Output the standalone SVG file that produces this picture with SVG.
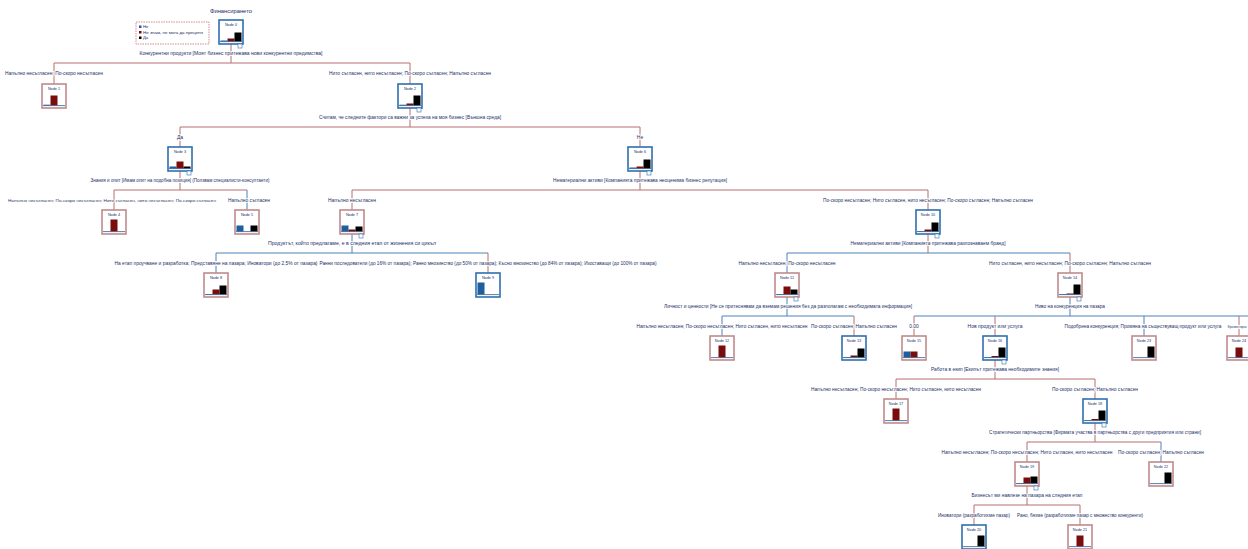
<svg xmlns="http://www.w3.org/2000/svg" width="1248" height="549" viewBox="0 0 1248 549">
<style>
  .t { font-family: "Liberation Sans", Arial, sans-serif; font-size: 5px; fill: #1d2f6a; text-anchor: middle; stroke: #ffffff; stroke-width: 1.6px; paint-order: stroke; }
  .ts { text-anchor: start; }
  .nid { font-family: "Liberation Sans", Arial, sans-serif; font-size: 3.8px; fill: #1d2f6a; text-anchor: middle; }
  .lg { font-family: "Liberation Sans", Arial, sans-serif; font-size: 4.2px; fill: #1d2f6a; }
  .lr { stroke: #b96f6f; stroke-width: 1; fill: none; }
  .lb { stroke: #4a82b8; stroke-width: 1; fill: none; }
  .br { fill: #ffffff; stroke: #c08a8a; stroke-width: 1.6; }
  .bb { fill: #ffffff; stroke: #2f6fae; stroke-width: 1.6; }
  .cb { fill: #1f5f9e; }
  .cr { fill: #7a0c0c; }
  .ck { fill: #000000; }
  .ax { stroke: #2f5e96; stroke-width: 0.8; }
  .exp { fill: #ffffff; stroke: #2f6fae; stroke-width: 0.6; }
  .leg { fill: #ffffff; stroke: #c05a5a; stroke-width: 0.7; stroke-dasharray: 1.5 1; }
</style>

<!-- title and legend -->
<text class="t" x="231" y="12.8" textLength="42" lengthAdjust="spacingAndGlyphs">Финансирането</text>
<g id="legend">
  <rect class="leg" x="136" y="22" width="73" height="22"/>
  <rect class="cb" x="139" y="25.5" width="2.5" height="2.5"/>
  <text class="lg" x="143" y="28">Не</text>
  <rect class="cr" x="139" y="31" width="2.5" height="2.5"/>
  <text class="lg" x="143" y="33.6" textLength="60" lengthAdjust="spacingAndGlyphs">Не знам, не мога да преценя</text>
  <rect class="ck" x="139" y="36.5" width="2.5" height="2.5"/>
  <text class="lg" x="143" y="39">Да</text>
</g>

<!-- connectors -->
<g id="connectors">
  <!-- Node 0 -->
  <path class="lr" d="M231 44V63M54 63H410M54 63V84M410 63V84"/>
  <!-- Node 2 -->
  <path class="lr" d="M410 108V127M180 127H640M180 127V147M640 127V147"/>
  <!-- Node 3 -->
  <path class="lr" d="M180 171V190M114 190H247M114 190V210"/>
  <path class="lb" d="M247 190V210"/>
  <!-- Node 6 -->
  <path class="lr" d="M640 171V190M352 190H928M352 190V210M928 190V210"/>
  <!-- Node 7 -->
  <path class="lb" d="M352 234V253M216 253H488M216 253V273"/>
  <path class="lr" d="M488 253V273"/>
  <!-- Node 10 -->
  <path class="lr" d="M928 234V253M1070 253V273"/>
  <path class="lb" d="M787 253H1070M787 253V273"/>
  <!-- Node 11 -->
  <path class="lb" d="M787 297V316M722 316H854M722 316V336"/>
  <path class="lr" d="M854 316V336"/>
  <!-- Node 14 -->
  <path class="lb" d="M1070 297V316M914 316H1248M1144 316V336"/>
  <path class="lr" d="M914 316V336M995 316V336M1239 316V336"/>
  <!-- Node 16 -->
  <path class="lr" d="M995 360V379M896 379H1095M896 379V399M1095 379V399"/>
  <!-- Node 18 -->
  <path class="lr" d="M1095 423V442M1027 442H1161M1027 442V462"/>
  <path class="lb" d="M1161 442V462"/>
  <!-- Node 19 -->
  <path class="lr" d="M1027 486V505M974 505H1080M974 505V525M1080 505V525"/>
</g>

<!-- connector labels -->
<g id="labels">
  <text class="t" x="231" y="54.8" textLength="183" lengthAdjust="spacingAndGlyphs">Конкурентни продукти [Моят бизнес притежава нови конкурентни предимства]</text>
  <text class="t" x="54" y="75.3" textLength="98" lengthAdjust="spacingAndGlyphs">Напълно несъгласен; По-скоро несъгласен</text>
  <text class="t" x="410" y="75.3" textLength="162" lengthAdjust="spacingAndGlyphs">Нито съгласен, нито несъгласен; По-скоро съгласен; Напълно съгласен</text>

  <text class="t" x="410" y="118.8" textLength="182" lengthAdjust="spacingAndGlyphs">Считам, че следните фактори са важни за успеха на моя бизнес [Външна среда]</text>
  <text class="t" x="180" y="138.8">Да</text>
  <text class="t" x="640" y="138.8">Не</text>

  <text class="t" x="180" y="181.8" textLength="179" lengthAdjust="spacingAndGlyphs">Знания и опит [Имам опит на подобна позиция] (Ползвам специалисти-консултанти)</text>
  <text class="t" x="112" y="202.3" style="font-size:4.3px" textLength="208" lengthAdjust="spacingAndGlyphs">Напълно несъгласен; По-скоро несъгласен; Нито съгласен, нито несъгласен; По-скоро съгласен</text>
  <text class="t" x="249" y="202.3" style="font-size:4.7px" textLength="42" lengthAdjust="spacingAndGlyphs">Напълно съгласен</text>

  <text class="t" x="640" y="181.8" textLength="174" lengthAdjust="spacingAndGlyphs">Нематериални активи [Компанията притежава неоценима бизнес репутация]</text>
  <text class="t" x="352" y="202.3" textLength="48" lengthAdjust="spacingAndGlyphs">Напълно несъгласен</text>
  <text class="t" x="928" y="202.3" textLength="210" lengthAdjust="spacingAndGlyphs">По-скоро несъгласен; Нито съгласен, нито несъгласен; По-скоро съгласен; Напълно съгласен</text>

  <text class="t" x="352" y="244.8" textLength="168" lengthAdjust="spacingAndGlyphs">Продуктът, който предлагаме, е в следния етап от жизнения си цикъл</text>
  <text class="t" x="216" y="265.3" textLength="203" lengthAdjust="spacingAndGlyphs">На етап проучване и разработка; Представяне на пазара; Иноватори (до 2,5% от пазара)</text>
  <text class="t" x="488" y="265.3" textLength="337" lengthAdjust="spacingAndGlyphs">Ранни последователи (до 16% от пазара); Ранно мнозинство (до 50% от пазара); Късно мнозинство (до 84% от пазара); Изоставащи (до 100% от пазара)</text>

  <text class="t" x="928" y="244.8" textLength="155" lengthAdjust="spacingAndGlyphs">Нематериални активи [Компанията притежава разпознаваем бранд]</text>
  <text class="t" x="787" y="265.3" textLength="97" lengthAdjust="spacingAndGlyphs">Напълно несъгласен; По-скоро несъгласен</text>
  <text class="t" x="1070" y="265.3" textLength="162" lengthAdjust="spacingAndGlyphs">Нито съгласен, нито несъгласен; По-скоро съгласен; Напълно съгласен</text>

  <text class="t" x="788" y="307.8" textLength="248" lengthAdjust="spacingAndGlyphs">Личност и ценности [Не се притеснявам да вземам решения без да разполагам с необходимата информация]</text>
  <text class="t" x="722" y="328.3" textLength="171" lengthAdjust="spacingAndGlyphs">Напълно несъгласен; По-скоро несъгласен; Нито съгласен, нито несъгласен</text>
  <text class="t" x="854" y="328.3" textLength="86" lengthAdjust="spacingAndGlyphs">По-скоро съгласен; Напълно съгласен</text>

  <text class="t" x="1070" y="307.8" textLength="70" lengthAdjust="spacingAndGlyphs">Ниво на конкуренция на пазара</text>
  <text class="t" x="914" y="328.3">0.00</text>
  <text class="t" x="995" y="328.3" textLength="55" lengthAdjust="spacingAndGlyphs">Нов продукт или услуга</text>
  <text class="t" x="1143" y="328.3" style="font-size:4.6px" textLength="157" lengthAdjust="spacingAndGlyphs">Подобрена конкуренция; Промяна на съществуващ продукт или услуга</text>
  <text class="t ts" x="1227.5" y="328.3" style="font-size:2.9px">Фрагментиран</text>

  <text class="t" x="995" y="370.8" textLength="128" lengthAdjust="spacingAndGlyphs">Работа в екип [Екипът притежава необходимите знания]</text>
  <text class="t" x="896" y="391.3" textLength="170" lengthAdjust="spacingAndGlyphs">Напълно несъгласен; По-скоро несъгласен; Нито съгласен, нито несъгласен</text>
  <text class="t" x="1095" y="391.3" textLength="86" lengthAdjust="spacingAndGlyphs">По-скоро съгласен; Напълно съгласен</text>

  <text class="t" x="1095" y="433.8" textLength="212" lengthAdjust="spacingAndGlyphs">Стратегически партньорства [Фирмата участва в партньорства с други предприятия или страни]</text>
  <text class="t" x="1027" y="454.3" textLength="171" lengthAdjust="spacingAndGlyphs">Напълно несъгласен; По-скоро несъгласен; Нито съгласен, нито несъгласен</text>
  <text class="t" x="1161" y="454.3" textLength="86" lengthAdjust="spacingAndGlyphs">По-скоро съгласен; Напълно съгласен</text>

  <text class="t" x="1027" y="496.8" textLength="111" lengthAdjust="spacingAndGlyphs">Бизнесът ми навлезе на пазара на следния етап</text>
  <text class="t" x="974" y="517.3" textLength="72" lengthAdjust="spacingAndGlyphs">Иноватори (разработихме пазар)</text>
  <text class="t" x="1080" y="517.3" textLength="126" lengthAdjust="spacingAndGlyphs">Рано, бяхме (разработихме пазар с множество конкуренти)</text>
</g>

<!-- nodes: frame, id, three bars (Не / Не знам / Да), axis, expand box -->
<g id="node-0" transform="translate(219,20)">
  <rect class="bb" width="24" height="24"/><text class="nid" x="12" y="6">Node 0</text>
  <rect class="cb" x="1.5" y="20.5" width="7" height="1"/><rect class="cr" x="8.5" y="18.5" width="7" height="3"/><rect class="ck" x="15.5" y="12.5" width="7" height="9"/>
  <line class="ax" x1="1" y1="21.6" x2="23" y2="21.6"/><rect class="exp" x="19" y="24" width="4" height="4"/>
</g>
<g id="node-1" transform="translate(42,84)">
  <rect class="br" width="24" height="24"/><text class="nid" x="12" y="6">Node 1</text>
  <rect class="cb" x="1.5" y="20.7" width="7" height="0.8"/><rect class="cr" x="8.5" y="11.5" width="7" height="10"/>
  <line class="ax" x1="1" y1="21.6" x2="23" y2="21.6"/>
</g>
<g id="node-2" transform="translate(398,84)">
  <rect class="bb" width="24" height="24"/><text class="nid" x="12" y="6">Node 2</text>
  <rect class="cb" x="1.5" y="20.7" width="7" height="0.8"/><rect class="cr" x="8.5" y="19.5" width="7" height="2"/><rect class="ck" x="15.5" y="11.5" width="7" height="10"/>
  <line class="ax" x1="1" y1="21.6" x2="23" y2="21.6"/><rect class="exp" x="19" y="24" width="4" height="4"/>
</g>
<g id="node-3" transform="translate(168,147)">
  <rect class="bb" width="24" height="24"/><text class="nid" x="12" y="6">Node 3</text>
  <rect class="cb" x="1.5" y="19.5" width="7" height="2"/><rect class="cr" x="8.5" y="14.5" width="7" height="7"/><rect class="ck" x="15.5" y="19.5" width="7" height="2"/>
  <line class="ax" x1="1" y1="21.6" x2="23" y2="21.6"/><rect class="exp" x="19" y="24" width="4" height="4"/>
</g>
<g id="node-4" transform="translate(102,210)">
  <rect class="br" width="24" height="24"/><text class="nid" x="12" y="6">Node 4</text>
  <rect class="cr" x="8.5" y="9.5" width="7" height="12"/>
  <line class="ax" x1="1" y1="21.6" x2="23" y2="21.6"/>
</g>
<g id="node-5" transform="translate(235,210)">
  <rect class="br" width="24" height="24"/><text class="nid" x="12" y="6">Node 5</text>
  <rect class="cb" x="1.5" y="15.5" width="7" height="6"/><rect class="ck" x="15.5" y="15.5" width="7" height="6"/>
  <line class="ax" x1="1" y1="21.6" x2="23" y2="21.6"/>
</g>
<g id="node-6" transform="translate(628,147)">
  <rect class="bb" width="24" height="24"/><text class="nid" x="12" y="6">Node 6</text>
  <rect class="cb" x="1.5" y="20.5" width="7" height="1"/><rect class="cr" x="8.5" y="19.5" width="7" height="2"/><rect class="ck" x="15.5" y="12.5" width="7" height="9"/>
  <line class="ax" x1="1" y1="21.6" x2="23" y2="21.6"/><rect class="exp" x="19" y="24" width="4" height="4"/>
</g>
<g id="node-7" transform="translate(340,210)">
  <rect class="br" width="24" height="24"/><text class="nid" x="12" y="6">Node 7</text>
  <rect class="cb" x="1.5" y="15.5" width="7" height="6"/><rect class="cr" x="8.5" y="19.5" width="7" height="2"/><rect class="ck" x="15.5" y="16.5" width="7" height="5"/>
  <line class="ax" x1="1" y1="21.6" x2="23" y2="21.6"/><rect class="exp" x="19" y="24" width="4" height="4"/>
</g>
<g id="node-8" transform="translate(204,273)">
  <rect class="br" width="24" height="24"/><text class="nid" x="12" y="6">Node 8</text>
  <rect class="cb" x="1.5" y="21" width="7" height="0.5"/><rect class="cr" x="8.5" y="16.5" width="7" height="5"/><rect class="ck" x="15.5" y="12.5" width="7" height="9"/>
  <line class="ax" x1="1" y1="21.6" x2="23" y2="21.6"/>
</g>
<g id="node-9" transform="translate(476,273)">
  <rect class="bb" width="24" height="24"/><text class="nid" x="12" y="6">Node 9</text>
  <rect class="cb" x="1.5" y="9.5" width="7" height="12"/>
  <line class="ax" x1="1" y1="21.6" x2="23" y2="21.6"/>
</g>
<g id="node-10" transform="translate(916,210)">
  <rect class="bb" width="24" height="24"/><text class="nid" x="12" y="6">Node 10</text>
  <rect class="cb" x="1.5" y="21" width="7" height="0.5"/><rect class="cr" x="8.5" y="19.5" width="7" height="2"/><rect class="ck" x="15.5" y="12.5" width="7" height="9"/>
  <line class="ax" x1="1" y1="21.6" x2="23" y2="21.6"/><rect class="exp" x="19" y="24" width="4" height="4"/>
</g>
<g id="node-11" transform="translate(775,273)">
  <rect class="br" width="24" height="24"/><text class="nid" x="12" y="6">Node 11</text>
  <rect class="cb" x="1.5" y="21" width="7" height="0.5"/><rect class="cr" x="8.5" y="13.5" width="7" height="8"/><rect class="ck" x="15.5" y="16.5" width="7" height="5"/>
  <line class="ax" x1="1" y1="21.6" x2="23" y2="21.6"/><rect class="exp" x="19" y="24" width="4" height="4"/>
</g>
<g id="node-12" transform="translate(710,336)">
  <rect class="br" width="24" height="24"/><text class="nid" x="12" y="6">Node 12</text>
  <rect class="cr" x="8.5" y="9.5" width="7" height="12"/>
  <line class="ax" x1="1" y1="21.6" x2="23" y2="21.6"/>
</g>
<g id="node-13" transform="translate(842,336)">
  <rect class="bb" width="24" height="24"/><text class="nid" x="12" y="6">Node 13</text>
  <rect class="cb" x="1.5" y="21" width="7" height="0.5"/><rect class="cr" x="8.5" y="19.5" width="7" height="2"/><rect class="ck" x="15.5" y="12.5" width="7" height="9"/>
  <line class="ax" x1="1" y1="21.6" x2="23" y2="21.6"/>
</g>
<g id="node-14" transform="translate(1058,273)">
  <rect class="br" width="24" height="24"/><text class="nid" x="12" y="6">Node 14</text>
  <rect class="cb" x="1.5" y="21" width="7" height="0.5"/><rect class="cr" x="8.5" y="20.5" width="7" height="1"/><rect class="ck" x="15.5" y="11.5" width="7" height="10"/>
  <line class="ax" x1="1" y1="21.6" x2="23" y2="21.6"/><rect class="exp" x="19" y="24" width="4" height="4"/>
</g>
<g id="node-15" transform="translate(902,336)">
  <rect class="br" width="24" height="24"/><text class="nid" x="12" y="6">Node 15</text>
  <rect class="cb" x="1.5" y="15.5" width="7" height="6"/><rect class="cr" x="8.5" y="15.5" width="7" height="6"/>
  <line class="ax" x1="1" y1="21.6" x2="23" y2="21.6"/>
</g>
<g id="node-16" transform="translate(983,336)">
  <rect class="bb" width="24" height="24"/><text class="nid" x="12" y="6">Node 16</text>
  <rect class="cb" x="1.5" y="21" width="7" height="0.5"/><rect class="cr" x="8.5" y="20" width="7" height="1.5"/><rect class="ck" x="15.5" y="11.5" width="7" height="10"/>
  <line class="ax" x1="1" y1="21.6" x2="23" y2="21.6"/><rect class="exp" x="19" y="24" width="4" height="4"/>
</g>
<g id="node-17" transform="translate(884,399)">
  <rect class="br" width="24" height="24"/><text class="nid" x="12" y="6">Node 17</text>
  <rect class="cr" x="8.5" y="9.5" width="7" height="12"/>
  <line class="ax" x1="1" y1="21.6" x2="23" y2="21.6"/>
</g>
<g id="node-18" transform="translate(1083,399)">
  <rect class="bb" width="24" height="24"/><text class="nid" x="12" y="6">Node 18</text>
  <rect class="cb" x="1.5" y="21" width="7" height="0.5"/><rect class="cr" x="8.5" y="20" width="7" height="1.5"/><rect class="ck" x="15.5" y="11.5" width="7" height="10"/>
  <line class="ax" x1="1" y1="21.6" x2="23" y2="21.6"/><rect class="exp" x="19" y="24" width="4" height="4"/>
</g>
<g id="node-19" transform="translate(1015,462)">
  <rect class="br" width="24" height="24"/><text class="nid" x="12" y="6">Node 19</text>
  <rect class="cb" x="1.5" y="21" width="7" height="0.5"/><rect class="cr" x="8.5" y="15.5" width="7" height="6"/><rect class="ck" x="15.5" y="14.5" width="7" height="7"/>
  <line class="ax" x1="1" y1="21.6" x2="23" y2="21.6"/><rect class="exp" x="19" y="24" width="4" height="4"/>
</g>
<g id="node-20" transform="translate(962,525)">
  <rect class="bb" width="24" height="24"/><text class="nid" x="12" y="6">Node 20</text>
  <rect class="ck" x="15.5" y="10.5" width="7" height="11"/>
  <line class="ax" x1="1" y1="21.6" x2="23" y2="21.6"/>
</g>
<g id="node-21" transform="translate(1068,525)">
  <rect class="br" width="24" height="24"/><text class="nid" x="12" y="6">Node 21</text>
  <rect class="cr" x="8.5" y="10.5" width="7" height="11"/>
  <line class="ax" x1="1" y1="21.6" x2="23" y2="21.6"/>
</g>
<g id="node-22" transform="translate(1149,462)">
  <rect class="br" width="24" height="24"/><text class="nid" x="12" y="6">Node 22</text>
  <rect class="ck" x="15.5" y="10.5" width="7" height="11"/>
  <line class="ax" x1="1" y1="21.6" x2="23" y2="21.6"/>
</g>
<g id="node-23" transform="translate(1132,336)">
  <rect class="br" width="24" height="24"/><text class="nid" x="12" y="6">Node 23</text>
  <rect class="ck" x="15.5" y="10.5" width="7" height="11"/>
  <line class="ax" x1="1" y1="21.6" x2="23" y2="21.6"/>
</g>
<g id="node-24" transform="translate(1227,336)">
  <rect class="br" width="24" height="24"/><text class="nid" x="12" y="6">Node 24</text>
  <rect class="cr" x="8.5" y="11.5" width="7" height="10"/>
  <line class="ax" x1="1" y1="21.6" x2="23" y2="21.6"/>
</g>
</svg>
